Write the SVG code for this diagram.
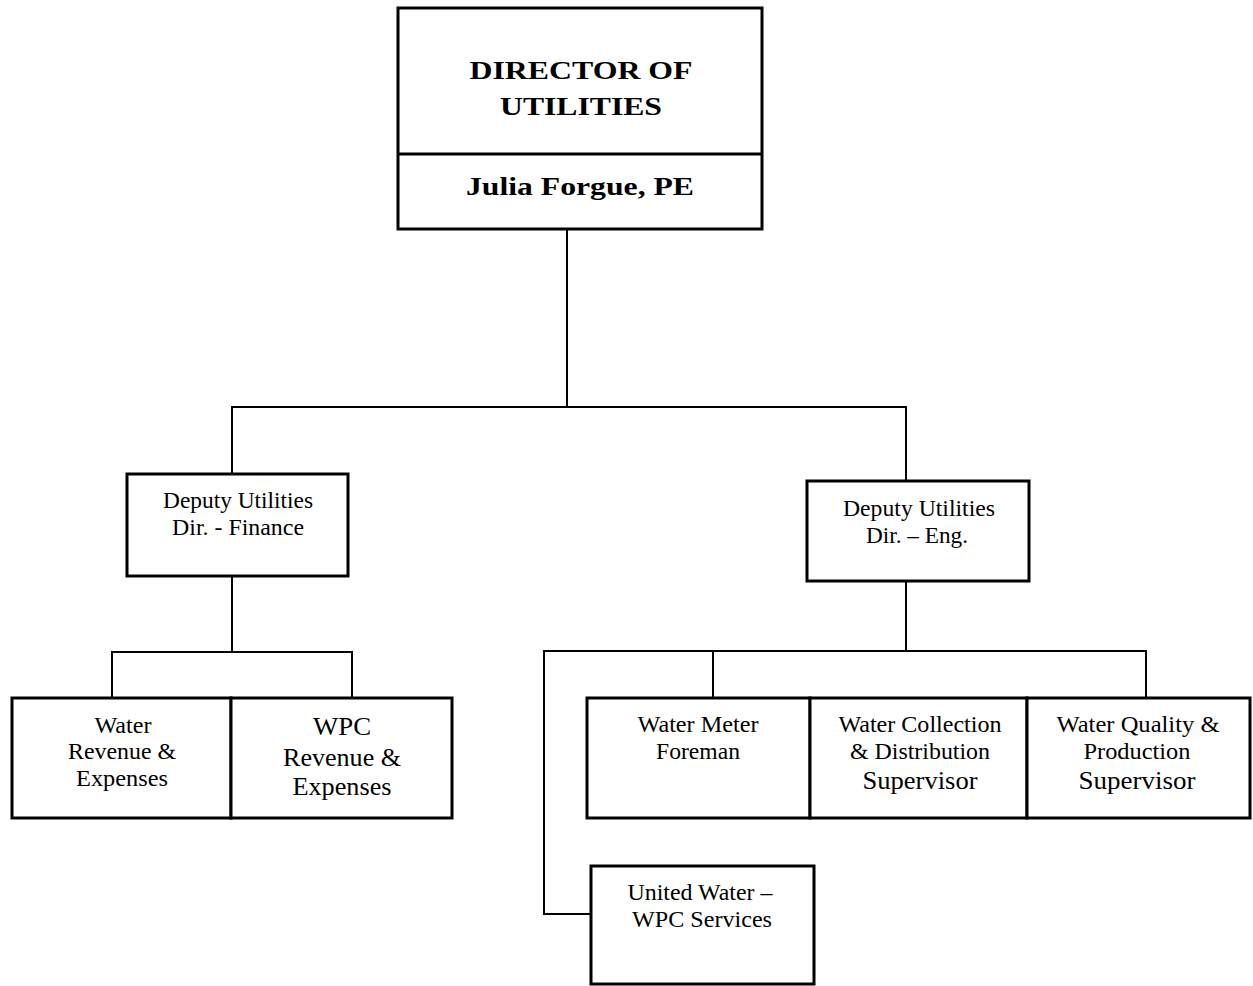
<svg xmlns="http://www.w3.org/2000/svg" width="1253" height="986" viewBox="0 0 1253 986">
  <style>
    .box { fill: #fff; stroke: #000; stroke-width: 3; }
    .line { fill: none; stroke: #000; stroke-width: 2; }
    text { font-family: "Liberation Serif", "Times New Roman", serif; fill: #000; text-anchor: middle; }
    .title { font-size: 26px; font-weight: bold; }
    .t { font-size: 23px; }
    .tl { font-size: 25px; }
  </style>
  <rect width="1253" height="986" fill="#fff"/>

  <!-- connectors -->
  <g id="connectors">
    <path class="line" d="M567 230 V407"/>
    <path class="line" d="M232 474 V407 H906 V481"/>
    <path class="line" d="M232 576 V652"/>
    <path class="line" d="M112 698 V652 H352 V698"/>
    <path class="line" d="M906 581 V651"/>
    <path class="line" d="M713 698 V651 H1146 V698"/>
    <path class="line" d="M591 914 H544 V651 H713"/>
  </g>

  <!-- director -->
  <g id="director">
    <rect class="box" x="398" y="8" width="364" height="221"/>
    <line class="box" x1="398" y1="154" x2="762" y2="154"/>
    <text class="title" x="581" y="79" textLength="223" lengthAdjust="spacingAndGlyphs">DIRECTOR OF</text>
    <text class="title" x="581" y="115" textLength="162" lengthAdjust="spacingAndGlyphs">UTILITIES</text>
    <text class="title" x="580" y="195" textLength="228" lengthAdjust="spacingAndGlyphs">Julia Forgue, PE</text>
  </g>

  <!-- deputy finance -->
  <g id="deputy-finance">
    <rect class="box" x="127" y="474" width="221" height="102"/>
    <text class="t" x="238" y="508" textLength="150" lengthAdjust="spacingAndGlyphs">Deputy Utilities</text>
    <text class="t" x="238" y="535" textLength="132" lengthAdjust="spacingAndGlyphs">Dir. - Finance</text>
  </g>

  <!-- deputy engineering -->
  <g id="deputy-eng">
    <rect class="box" x="807" y="481" width="222" height="100"/>
    <text class="t" x="919" y="516" textLength="152" lengthAdjust="spacingAndGlyphs">Deputy Utilities</text>
    <text class="t" x="917" y="543" textLength="102" lengthAdjust="spacingAndGlyphs">Dir. – Eng.</text>
  </g>

  <!-- finance units -->
  <g id="water-revenue">
    <rect class="box" x="12" y="698" width="219" height="120"/>
    <text class="t" x="123" y="733" textLength="57" lengthAdjust="spacingAndGlyphs">Water</text>
    <text class="t" x="122" y="759" textLength="108" lengthAdjust="spacingAndGlyphs">Revenue &amp;</text>
    <text class="t" x="122" y="786" textLength="92" lengthAdjust="spacingAndGlyphs">Expenses</text>
  </g>
  <g id="wpc-revenue">
    <rect class="box" x="231" y="698" width="221" height="120"/>
    <text class="tl" x="342" y="735" textLength="58" lengthAdjust="spacingAndGlyphs">WPC</text>
    <text class="tl" x="342" y="766" textLength="118" lengthAdjust="spacingAndGlyphs">Revenue &amp;</text>
    <text class="tl" x="342" y="795" textLength="99" lengthAdjust="spacingAndGlyphs">Expenses</text>
  </g>

  <!-- engineering units -->
  <g id="water-meter">
    <rect class="box" x="587" y="698" width="223" height="120"/>
    <text class="t" x="698" y="732" textLength="121" lengthAdjust="spacingAndGlyphs">Water Meter</text>
    <text class="t" x="698" y="759" textLength="84" lengthAdjust="spacingAndGlyphs">Foreman</text>
  </g>
  <g id="water-collection">
    <rect class="box" x="810" y="698" width="217" height="120"/>
    <text class="t" x="920" y="732" textLength="163" lengthAdjust="spacingAndGlyphs">Water Collection</text>
    <text class="t" x="920" y="759" textLength="140" lengthAdjust="spacingAndGlyphs">&amp; Distribution</text>
    <text class="tl" x="920" y="789" textLength="115" lengthAdjust="spacingAndGlyphs">Supervisor</text>
  </g>
  <g id="water-quality">
    <rect class="box" x="1027" y="698" width="223" height="120"/>
    <text class="t" x="1138" y="732" textLength="163" lengthAdjust="spacingAndGlyphs">Water Quality &amp;</text>
    <text class="t" x="1137" y="759" textLength="107" lengthAdjust="spacingAndGlyphs">Production</text>
    <text class="tl" x="1137" y="789" textLength="117" lengthAdjust="spacingAndGlyphs">Supervisor</text>
  </g>
  <g id="united-water">
    <rect class="box" x="591" y="866" width="223" height="118"/>
    <text class="t" x="700" y="900" textLength="145" lengthAdjust="spacingAndGlyphs">United Water –</text>
    <text class="t" x="702" y="927" textLength="140" lengthAdjust="spacingAndGlyphs">WPC Services</text>
  </g>
</svg>
